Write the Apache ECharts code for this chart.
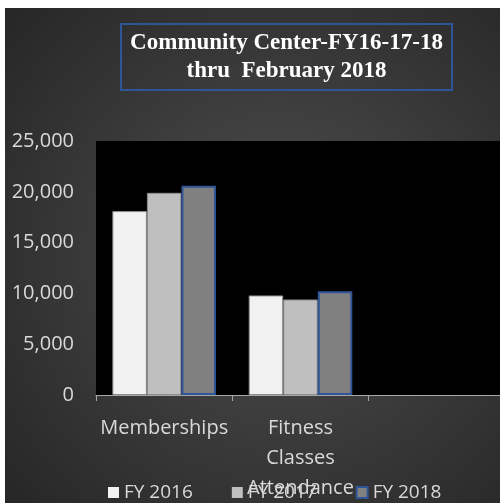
<!DOCTYPE html>
<html>
<head>
<meta charset="utf-8">
<script src="https://cdn.jsdelivr.net/npm/echarts@6/dist/echarts.min.js"></script>
<style>
  html, body { margin: 0; padding: 0; background: #fff; overflow: hidden; }
  #chart { position: absolute; left: 5px; top: 8px; width: 500px; height: 495px; }
  #title {
    position: absolute; left: 120px; top: 23px; width: 329px; height: 61px;
    border: 2px solid #2f5597; color: #fff; text-align: center;
    font: bold 23px "Liberation Serif", serif; line-height: 28px; padding-top: 3px;
    box-sizing: content-box; white-space: nowrap;
  }
</style>
</head>
<body>
<div id="chart"></div>
<div id="title">Community Center-FY16-17-18<br>thru&nbsp; February 2018</div>
<script>
// 类别与各年度数值
const categories = ["Memberships", "Fitness\nClasses\nAttendance", ""];
const seriesNames = ["FY 2016", "FY 2017", "FY 2018"];
const fy2016 = [18100, 9800, null];
const fy2017 = [19900, 9400, null];
const fy2018 = [20600, 10200, null];
const yTicks = [0, 5000, 10000, 15000, 20000, 25000];

const fills = ["#f2f2f2", "#bfbfbf", "#808080"];
const borders = ["#8c8c8c", "#8c8c8c", "#2f5597"];
const labelColor = "#d9d9d9";
const font = "Open Sans";

const chart = echarts.init(document.getElementById("chart"));

chart.setOption({
  animation: false,
  backgroundColor: {
    type: "radial", x: 0.55, y: 0.5, r: 0.75,
    colorStops: [
      { offset: 0, color: "#4e4e4e" },
      { offset: 1, color: "#262626" }
    ]
  },
  grid: {
    show: true,
    left: 91,
    top: 133,
    right: 0,
    bottom: 107,
    backgroundColor: "#000",
    borderWidth: 0
  },
  legend: {
    data: seriesNames.map((n, i) => ({
      name: n,
      itemStyle: { color: fills[i], borderColor: i === 2 ? borders[2] : fills[i], borderWidth: i === 2 ? 2 : 0 }
    })),
    left: 98,
    top: 470,
    itemWidth: 11,
    itemHeight: 11,
    itemGap: 39,
    icon: "rect",
    textStyle: { color: labelColor, fontFamily: font, fontSize: 19 }
  },
  xAxis: {
    type: "category",
    data: categories,
    axisLine: { lineStyle: { color: "#a6a6a6", width: 1 } },
    axisTick: { show: true, length: 6, lineStyle: { color: "#a6a6a6" } },
    axisLabel: {
      color: labelColor, fontFamily: font, fontSize: 20,
      lineHeight: 30, margin: 18, interval: 0
    }
  },
  yAxis: {
    type: "value",
    min: yTicks[0],
    max: yTicks[yTicks.length - 1],
    interval: 5000,
    splitLine: { show: false },
    axisLine: { show: false },
    axisTick: { show: false },
    axisLabel: {
      color: labelColor, fontFamily: font, fontSize: 20, margin: 22,
      formatter: v => v.toLocaleString("en-US")
    }
  },
  series: [fy2016, fy2017, fy2018].map((d, i) => ({
    name: seriesNames[i],
    type: "bar",
    data: d,
    barGap: "0%",
    barCategoryGap: "24%",
    itemStyle: { color: fills[i], borderColor: borders[i], borderWidth: i === 2 ? 2 : 1 }
  }))
});
</script>
</body>
</html>
